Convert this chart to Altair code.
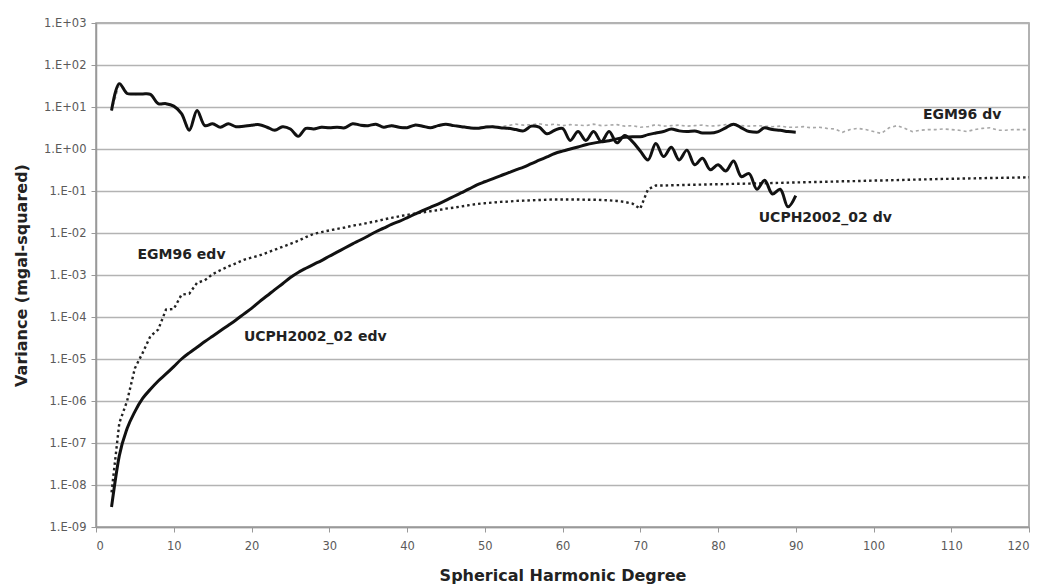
import altair as alt
import pandas as pd

# Degrees
deg_ucph = list(range(2, 91))
deg_egm = list(range(2, 121))

# UCPH2002_02 degree variance (dv)
ucph_dv = [8.3, 36, 21, 20.5, 20.5, 20, 12, 12, 10.5, 7,
           2.8, 8.3, 3.6, 4.0, 3.3, 4.0, 3.4, 3.5, 3.7, 3.8,
           3.3, 2.8, 3.4, 3.0, 2.0, 3.1, 3.0, 3.3, 3.2, 3.3,
           3.2, 4.0, 3.7, 3.6, 3.9, 3.3, 3.6, 3.3, 3.2, 3.7,
           3.5, 3.2, 3.6, 3.9, 3.6, 3.4, 3.2, 3.1, 3.3, 3.4,
           3.2, 3.1, 2.9, 2.7, 3.5, 3.3, 2.3, 2.8, 3.1, 1.6,
           2.6, 1.6, 2.6, 1.5, 2.6, 1.4, 2.1, 1.5, 0.9, 0.55,
           1.36, 0.66, 1.1, 0.55, 0.94, 0.42, 0.6, 0.32, 0.42, 0.3,
           0.52, 0.22, 0.26, 0.11, 0.18, 0.085, 0.11, 0.042, 0.078]

# UCPH2002_02 error degree variance (edv)
ucph_edv = [3.0e-9, 5.0e-8, 2.2e-7, 5.6e-7, 1.15e-6, 1.9e-6, 3.0e-6, 4.4e-6, 6.6e-6, 1.0e-5,
            1.4e-5, 1.9e-5, 2.6e-5, 3.5e-5, 4.7e-5, 6.3e-5, 8.5e-5, 1.17e-4, 1.6e-4, 2.3e-4,
            3.2e-4, 4.5e-4, 6.2e-4, 8.7e-4, 1.15e-3, 1.45e-3, 1.8e-3, 2.2e-3, 2.8e-3, 3.5e-3,
            4.4e-3, 5.5e-3, 6.8e-3, 8.5e-3, 1.07e-2, 1.3e-2, 1.6e-2, 1.9e-2, 2.3e-2, 2.8e-2,
            3.4e-2, 4.1e-2, 4.9e-2, 6.0e-2, 7.4e-2, 9.1e-2, 0.112, 0.14, 0.166, 0.195,
            0.23, 0.27, 0.32, 0.37, 0.45, 0.54, 0.65, 0.78, 0.89, 1.0,
            1.12, 1.26, 1.38, 1.48, 1.58, 1.74, 1.9, 1.95, 1.95, 2.2,
            2.4, 2.6, 3.0, 2.7, 2.6, 2.7, 2.4, 2.4, 2.6, 3.2,
            3.9, 3.2, 2.6, 2.5, 3.2, 2.9, 2.8, 2.6, 2.5]

# EGM96 error degree variance (edv)
egm_edv = [6.7e-9, 3.0e-7, 1.0e-6, 6.0e-6, 1.4e-5, 3.5e-5, 5.0e-5, 1.5e-4, 1.55e-4, 3.4e-4,
           3.6e-4, 6.5e-4, 7.5e-4, 1.05e-3, 1.3e-3, 1.6e-3, 1.9e-3, 2.3e-3, 2.6e-3, 2.9e-3,
           3.4e-3, 4.0e-3, 4.7e-3, 5.5e-3, 6.5e-3, 8.0e-3, 9.5e-3, 1.05e-2, 1.15e-2, 1.25e-2,
           1.35e-2, 1.5e-2, 1.6e-2, 1.75e-2, 1.9e-2, 2.1e-2, 2.3e-2, 2.5e-2, 2.7e-2, 2.9e-2,
           3.1e-2, 3.3e-2, 3.5e-2, 3.8e-2, 4.0e-2, 4.3e-2, 4.6e-2, 4.9e-2, 5.1e-2, 5.3e-2,
           5.5e-2, 5.6e-2, 5.8e-2, 5.9e-2, 6.0e-2, 6.1e-2, 6.2e-2, 6.3e-2, 6.3e-2, 6.3e-2,
           6.3e-2, 6.2e-2, 6.2e-2, 6.1e-2, 6.0e-2, 5.8e-2, 5.5e-2, 5.0e-2, 3.8e-2, 0.11,
           0.135, 0.135, 0.137, 0.138, 0.14, 0.141, 0.142, 0.144, 0.145, 0.146,
           0.148, 0.149, 0.15, 0.152, 0.153, 0.155, 0.156, 0.158, 0.16, 0.161,
           0.163, 0.164, 0.166, 0.168, 0.17, 0.171, 0.173, 0.175, 0.177, 0.178,
           0.18, 0.182, 0.184, 0.186, 0.188, 0.19, 0.192, 0.194, 0.195, 0.197,
           0.199, 0.2, 0.202, 0.204, 0.205, 0.207, 0.208, 0.21, 0.212]

# EGM96 degree variance (dv)
egm_dv = [8.0, 35, 21, 20, 20.5, 20, 12, 12, 10.5, 7,
          2.9, 8.0, 3.7, 4.0, 3.4, 4.0, 3.5, 3.5, 3.8, 3.8,
          3.4, 2.9, 3.5, 3.1, 2.1, 3.2, 3.1, 3.4, 3.3, 3.4,
          3.3, 4.0, 3.8, 3.7, 4.0, 3.4, 3.7, 3.4, 3.3, 3.8,
          3.6, 3.3, 3.7, 4.0, 3.7, 3.5, 3.3, 3.2, 3.4, 3.5,
          3.4, 3.6, 3.9, 3.7, 3.8, 4.0, 3.7, 3.9, 3.6, 3.8,
          3.7, 3.6, 3.9, 3.6, 3.7, 3.8, 3.5, 3.6, 3.3, 3.4,
          3.8, 3.5, 3.6, 3.7, 3.5, 3.6, 3.7, 3.5, 3.6, 3.8,
          3.9, 3.6, 3.5, 3.6, 3.5, 3.4, 3.5, 3.3, 3.3, 3.4,
          3.2, 3.3, 3.1, 3.0, 2.5, 2.9, 3.1, 2.9, 2.6, 2.35,
          3.2, 3.6, 3.1, 2.6, 2.8, 2.9, 2.9, 3.0, 2.9, 2.8,
          2.6, 2.9, 3.1, 3.2, 2.8, 2.8, 2.9, 2.9, 2.9]

# Annotation labels
label_text = ["EGM96 dv", "UCPH2002_02 dv", "EGM96 edv", "UCPH2002_02 edv"]
label_x = [111.4, 93.8, 11.0, 28.2]
label_y = [6.4, 0.023, 3.0e-3, 3.4e-5]

y_ticks = [1e3, 1e2, 1e1, 1e0, 1e-1, 1e-2, 1e-3, 1e-4, 1e-5, 1e-6, 1e-7, 1e-8, 1e-9]
x_ticks = list(range(0, 121, 10))

FONT = "DejaVu Sans"

df_ucph_dv = pd.DataFrame({"deg": deg_ucph, "v": ucph_dv})
df_ucph_edv = pd.DataFrame({"deg": deg_ucph, "v": ucph_edv})
df_egm_edv = pd.DataFrame({"deg": deg_egm, "v": egm_edv})
df_egm_dv = pd.DataFrame({"deg": deg_egm, "v": egm_dv})
df_labels = pd.DataFrame({"deg": label_x, "v": label_y, "t": label_text})

label_expr = ("'1.E' + (datum.value >= 1 ? '+' : '-') + "
              "(abs(round(log(datum.value)/LN10)) < 10 ? '0' : '') + "
              "abs(round(log(datum.value)/LN10))")

x_enc = alt.X("deg:Q", scale=alt.Scale(domain=[0, 120], nice=False, zero=False),
              axis=alt.Axis(values=x_ticks, title="Spherical Harmonic Degree", grid=False,
                            tickSize=5, tickColor="#999999", domainColor="#999999",
                            domainWidth=1.5, labelFont=FONT, labelFontSize=11.5,
                            labelColor="#5a5a5a", labelPadding=8, titleFont=FONT,
                            titleFontSize=16, titleFontWeight="bold", titleColor="#222222",
                            titlePadding=16))
y_enc = alt.Y("v:Q", scale=alt.Scale(type="log", domain=[1e-9, 1e3], nice=False),
              axis=alt.Axis(values=y_ticks, labelExpr=label_expr,
                            title="Variance (mgal-squared)", grid=True,
                            gridColor="#b3b3b3", gridWidth=1.5,
                            tickSize=5, tickColor="#999999", domainColor="#999999",
                            domainWidth=1.5, labelFont=FONT, labelFontSize=11.5,
                            labelColor="#5a5a5a", labelPadding=5, titleFont=FONT,
                            titleFontSize=16, titleFontWeight="bold", titleColor="#222222",
                            titlePadding=14))

egm_dv_line = alt.Chart(df_egm_dv).mark_line(
    color="#a8a8a8", strokeWidth=1.6, strokeDash=[3, 3]).encode(x=x_enc, y=y_enc)
egm_edv_line = alt.Chart(df_egm_edv).mark_line(
    color="#222222", strokeWidth=2.4, strokeDash=[2.5, 3]).encode(x="deg:Q", y="v:Q")
ucph_edv_line = alt.Chart(df_ucph_edv).mark_line(
    color="#111111", strokeWidth=3, interpolate="monotone").encode(x="deg:Q", y="v:Q")
ucph_dv_line = alt.Chart(df_ucph_dv).mark_line(
    color="#111111", strokeWidth=3, interpolate="catmull-rom").encode(x="deg:Q", y="v:Q")
labels = alt.Chart(df_labels).mark_text(
    font=FONT, fontSize=14, fontWeight="bold", color="#222222",
    align="center", baseline="middle").encode(x="deg:Q", y="v:Q", text="t:N")

chart = alt.layer(egm_dv_line, egm_edv_line, ucph_edv_line, ucph_dv_line, labels).properties(
    width=933, height=504,
    autosize=alt.AutoSizeParams(type="none"),
    padding={"left": 96, "top": 23, "right": 14, "bottom": 59},
    background="white",
).configure_view(stroke="#999999", strokeWidth=1.5)

chart.save("out.html", embed_options={"renderer": "svg", "actions": False})
